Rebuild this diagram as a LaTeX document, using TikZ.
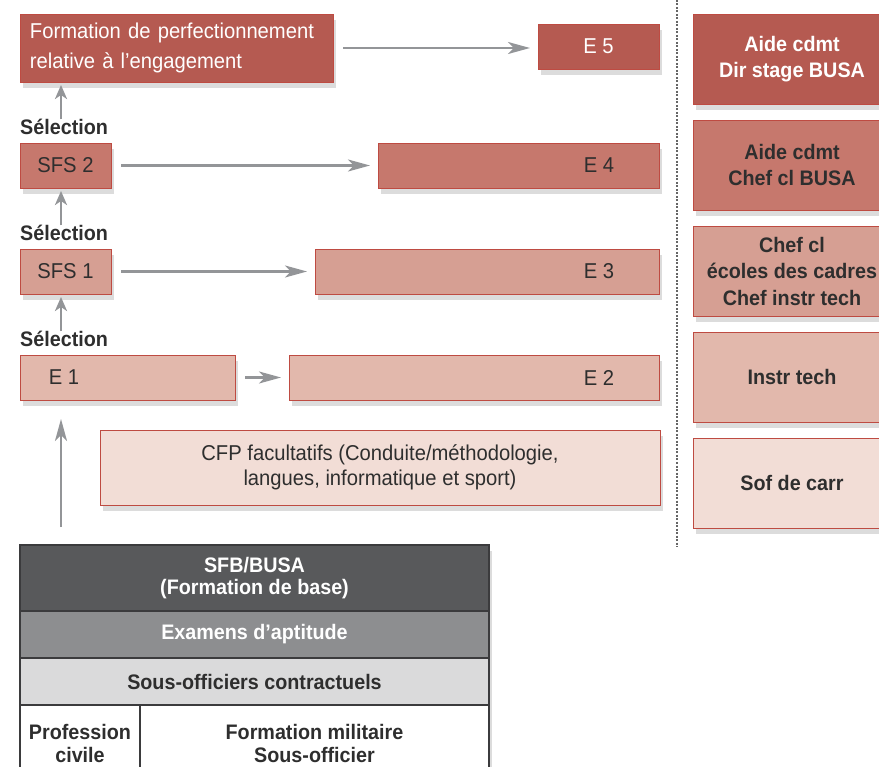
\documentclass[tikz,border=0pt]{standalone}
\usepackage{fontspec}
\setmainfont[FakeStretch=0.94]{Liberation Sans}
\usetikzlibrary{arrows.meta, positioning, calc, shadows}

\definecolor{redD}{HTML}{B55A51}
\definecolor{redM}{HTML}{C6786D}
\definecolor{redL}{HTML}{D69F93}
\definecolor{redP}{HTML}{E2B8AC}
\definecolor{redW}{HTML}{F2DDD6}
\definecolor{redline}{HTML}{BE4B42}
\definecolor{txt}{HTML}{2E2E2E}
\definecolor{arrowgray}{HTML}{939598}
\definecolor{tabA}{HTML}{58595B}
\definecolor{tabB}{HTML}{8D8E90}
\definecolor{tabC}{HTML}{DADADB}
\definecolor{tabline}{HTML}{3B3B3D}

\tikzstyle{box} = [rectangle, draw=redline, line width=0.9pt, anchor=north west, inner sep=0pt, outer sep=0pt, text=txt, align=center, font=\fontsize{21.5}{30}\selectfont, drop shadow={shadow xshift=3pt, shadow yshift=-6pt, opacity=0.28}]
\tikzstyle{role} = [box, minimum width=198pt, minimum height=90pt, font=\bfseries\fontsize{21}{26.5}\selectfont]
\tikzstyle{sel} = [anchor=base west, inner sep=0pt, text=txt, font=\bfseries\fontsize{21}{26}\selectfont]
\tikzstyle{lbl} = [inner sep=0pt, text=txt, font=\fontsize{21.5}{30}\selectfont]
\tikzstyle{arrow} = [line width=2.4pt, draw=arrowgray, -{Stealth[length=22pt, width=12pt, inset=6pt]}, shorten <=10pt, shorten >=8pt]
\tikzstyle{uparrow} = [line width=2.6pt, draw=arrowgray, -{Stealth[length=14pt, width=12pt, inset=4pt]}]
\tikzstyle{sep} = [line width=1.2pt, draw=black!60, dash pattern=on 2pt off 1.5pt]
\tikzstyle{cell} = [rectangle, draw=tabline, line width=1.6pt, anchor=north west, inner sep=0pt, outer sep=0pt, align=center, font=\bfseries\fontsize{21}{22.5}\selectfont, drop shadow={shadow xshift=3pt, shadow yshift=-6pt, opacity=0.28}]

\begin{document}
\begin{tikzpicture}[x=1pt, y=-1pt]
    \useasboundingbox (0,0) rectangle (879,767);
    \clip (0,0) rectangle (879,767);

    % Formation de perfectionnement
    \node (form) [box, fill=redD, text=white, minimum width=313pt, minimum height=68pt, text width=293pt, align=left] at (20,14) {Formation de perfectionnement\\relative à l’engagement};
    \node (e5) [box, fill=redD, text=white, minimum width=121pt, minimum height=45pt] at (538,24) {E 5};

    % SFS 2
    \node (sfs2) [box, fill=redM, minimum width=91pt, minimum height=45pt] at (20,143) {SFS 2};
    \node (e4) [box, fill=redM, minimum width=281pt, minimum height=45pt] at (378,143) {};
    \node [lbl] at ($(e4.east)+(-60,0)$) {E 4};
    \node (sel2) [sel] at ($(sfs2.north west)+(0,-8)$) {Sélection};

    % SFS 1
    \node (sfs1) [box, fill=redL, minimum width=91pt, minimum height=45pt] at (20,249) {SFS 1};
    \node (e3) [box, fill=redL, minimum width=344pt, minimum height=45pt] at (315,249) {};
    \node [lbl] at ($(e3.east)+(-60,0)$) {E 3};
    \node (sel1) [sel] at ($(sfs1.north west)+(0,-8)$) {Sélection};

    % E 1 / E 2
    \node (e1) [box, fill=redP, minimum width=215pt, minimum height=45pt] at (20,355) {};
    \node [lbl] at ($(e1.west)+(44,0)$) {E 1};
    \node (e2) [box, fill=redP, minimum width=370pt, minimum height=45pt] at (289,355) {};
    \node [lbl] at ($(e2.east)+(-60,0)$) {E 2};
    \node (sel0) [sel] at ($(e1.north west)+(0,-8)$) {Sélection};

    % CFP
    \node (cfp) [box, fill=redW, minimum width=560pt, minimum height=75pt, font=\fontsize{21.5}{25}\selectfont] at (100,430) {CFP facultatifs (Conduite/méthodologie,\\langues, informatique et sport)};

    % Arrows
    \draw [arrow] (form.east) -- (form.east -| e5.west);
    \draw [arrow] (sfs2) -- (e4);
    \draw [arrow] (sfs1) -- (e3);
    \draw [arrow] (e1) -- (e2);
    \draw [uparrow] ([xshift=41pt]sel2.north west) -- ([xshift=41pt, yshift=-3pt]form.south west);
    \draw [uparrow] ([xshift=41pt]sel1.north west) -- ([xshift=41pt, yshift=-3pt]sfs2.south west);
    \draw [uparrow] ([xshift=41pt]sel0.north west) -- ([xshift=41pt, yshift=-3pt]sfs1.south west);
    \coordinate (start) at (61,527);
    \draw [arrow, shorten <=0pt, shorten >=19pt] (start) -- (start |- e1.south);

    % Separator
    \coordinate (septop) at (677,0);
    \coordinate (sepbot) at (677,547);
    \draw [sep] (septop) -- (sepbot);

    % Functions
    \node (r1) [role, fill=redD, text=white] at (693,14) {Aide cdmt\\Dir stage BUSA};
    \node (r2) [role, fill=redM] at (693,120) {Aide cdmt\\Chef cl BUSA};
    \node (r3) [role, fill=redL] at (693,226) {Chef cl\\écoles des cadres\\Chef instr tech};
    \node (r4) [role, fill=redP] at (693,332) {Instr tech};
    \node (r5) [role, fill=redW] at (693,438) {Sof de carr};

    % Formation de base
    \node (sfb) [cell, fill=tabA, text=white, minimum width=469pt, minimum height=66pt] at (20,545) {SFB/BUSA\\(Formation de base)};
    \node (apt) [cell, fill=tabB, text=white, minimum width=469pt, minimum height=47pt] at (sfb.south west) {Examens d’aptitude};
    \node (sofc) [cell, fill=tabC, text=txt, minimum width=469pt, minimum height=47pt] at (apt.south west) {Sous-officiers contractuels};
    \node (civ) [cell, fill=white, text=txt, minimum width=120pt, minimum height=77pt] at (sofc.south west) {Profession\\civile};
    \node (mil) [cell, fill=white, text=txt, minimum width=349pt, minimum height=77pt] at (civ.north east) {Formation militaire\\Sous-officier};
\end{tikzpicture}
\end{document}
